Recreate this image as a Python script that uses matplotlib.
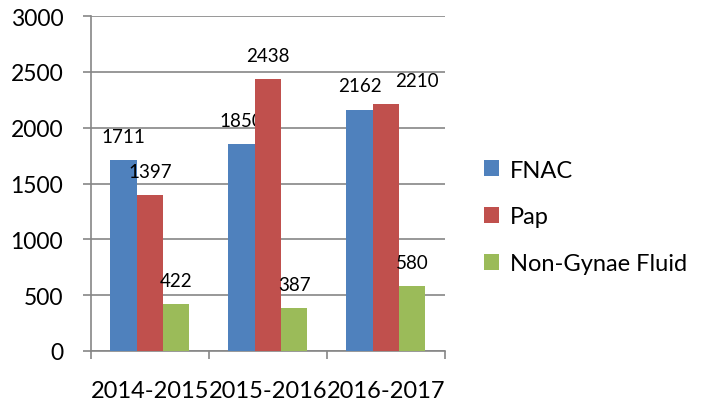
import matplotlib.pyplot as plt
import numpy as np

plt.rcParams['font.family'] = ['Lato', 'DejaVu Sans']

years = ['2014-2015', '2015-2016', '2016-2017']
fnac = [1711, 1850, 2162]
pap = [1397, 2438, 2210]
non_gynae = [422, 387, 580]

series = [('FNAC', fnac, '#4F81BD'),
          ('Pap', pap, '#C0504D'),
          ('Non-Gynae Fluid', non_gynae, '#9BBB59')]

fig = plt.figure(figsize=(7.05, 4.10), dpi=100)
ax = fig.add_axes([0.129, 0.1415, 0.502, 0.817])

x = np.arange(len(years))
w = 0.223
for i, (name, vals, col) in enumerate(series):
    pos = x + (i - 1) * w
    ax.bar(pos, vals, w, color=col, label=name, zorder=3)
    for j, (p, v) in enumerate(zip(pos, vals)):
        dx = 22 if (name == 'Pap' and j == 2) else 0
        ax.annotate(str(v), (p, v), xytext=(dx, 17), textcoords='offset points',
                    ha='center', va='center', fontsize=13.5)

ax.set_xlim(-0.5, 2.5)
ax.set_ylim(0, 3000)
ax.set_yticks(range(0, 3001, 500))
ax.yaxis.grid(True, color='#868686', linewidth=1.2, zorder=0)

ax.set_xticks(x)
ax.set_xticklabels(years, fontsize=17)
ax.set_xticks([-0.5, 0.5, 1.5, 2.5], minor=True)
ax.tick_params(axis='x', which='major', length=0, pad=21)
ax.tick_params(axis='x', which='minor', length=6, width=1.2, color='#868686', direction='out')
ax.tick_params(axis='y', length=6, width=1.2, color='#868686', labelsize=16.5, pad=14)

for s in ['top', 'right']:
    ax.spines[s].set_visible(False)
for s in ['left', 'bottom']:
    ax.spines[s].set_color('#868686')
    ax.spines[s].set_linewidth(1.2)

ax.legend(loc='center left', bbox_to_anchor=(1.05, 0.40), frameon=False,
          fontsize=17, handlelength=0.65, handleheight=0.65, labelspacing=1.1,
          handletextpad=0.45)

fig.savefig('out.png', dpi=100)
